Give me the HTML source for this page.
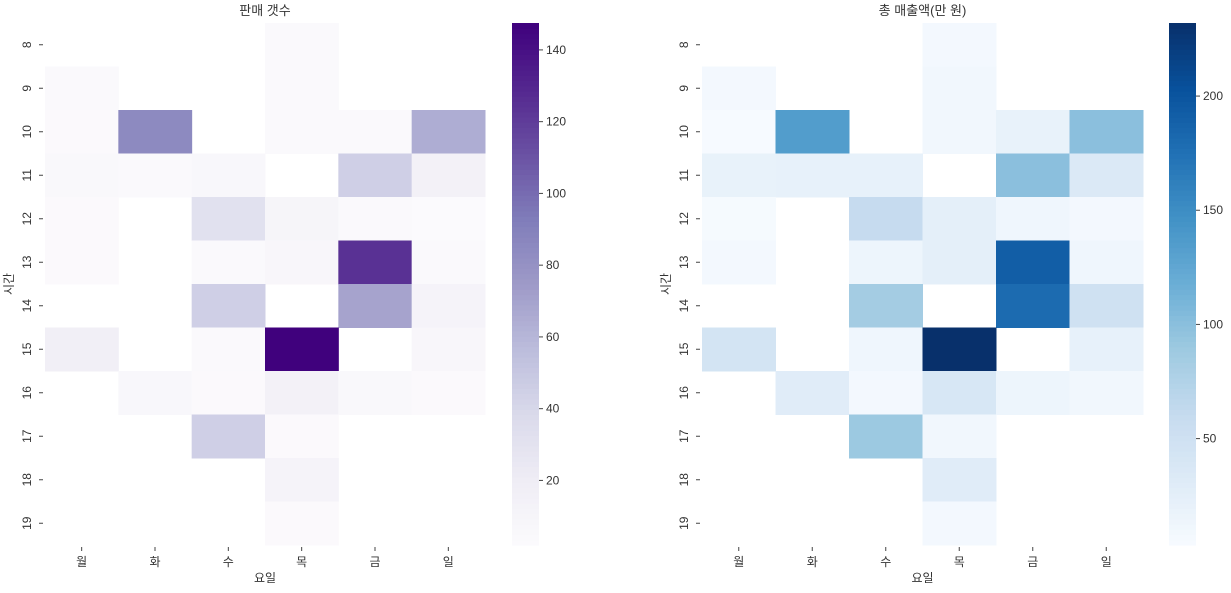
<!DOCTYPE html>
<html><head><meta charset="utf-8"><style>
body{margin:0;background:#fff;}
svg text{font-family:"Liberation Sans","Noto Sans CJK KR",sans-serif;fill:#333;}
</style></head><body>
<svg id="chart" width="1231" height="588" xmlns="http://www.w3.org/2000/svg"></svg>
<script>
const days = ['월','화','수','목','금','일'];
const hours = ['8','9','10','11','12','13','14','15','16','17','18','19'];
const countValues = [
 [null,null,null,5,null,null],
 [5,null,null,5,null,null],
 [4,85,null,5,5,65],
 [6,5,7,null,45,15],
 [4,null,32,10,5,3],
 [4,null,5,8,125,5],
 [null,null,45,null,70,12],
 [18,null,5,147,null,8],
 [null,7,4,15,6,4],
 [null,null,45,4,null,null],
 [null,null,null,12,null,null],
 [null,null,null,4,null,null]
];
const salesValues = [
 [null,null,null,8,null,null],
 [8,null,null,10,null,null],
 [5,135,null,10,20,100],
 [20,22,22,null,100,35],
 [6,null,60,25,12,8],
 [8,null,15,25,192,12],
 [null,null,85,null,180,50],
 [45,null,12,232,null,22],
 [null,30,8,40,15,10],
 [null,null,90,10,null,null],
 [null,null,null,30,null,null],
 [null,null,null,8,null,null]
];
const countTicks = [20,40,60,80,100,120,140];
const salesTicks = [50,100,150,200];
const countRange = [2,147.5];
const salesRange = [3.4,232];

const PURPLES=['#fcfbfd','#efedf5','#dadaeb','#bcbddc','#9e9ac8','#807dba','#6a51a3','#54278f','#3f007d'];
const BLUES=['#f7fbff','#deebf7','#c6dbef','#9ecae1','#6baed6','#4292c6','#2171b5','#08519c','#08306b'];
function hex(h){return [1,3,5].map(i=>parseInt(h.substr(i,2),16));}
function cmap(stops,t){t=Math.max(0,Math.min(1,t));const p=t*(stops.length-1);const i=Math.min(stops.length-2,Math.floor(p));const f=p-i;const a=hex(stops[i]),b=hex(stops[i+1]);return 'rgb('+a.map((v,k)=>Math.round(v+(b[k]-v)*f)).join(',')+')';}
const svg=document.getElementById('chart');const NS='http://www.w3.org/2000/svg';
function el(tag,attrs,parent){const e=document.createElementNS(NS,tag);for(const k in attrs)e.setAttribute(k,attrs[k]);(parent||svg).appendChild(e);return e;}
function txt(s,attrs,parent){const e=el('text',attrs,parent);e.textContent=s;return e;}

function heat(cfg){
 const g=el('g',{});
 
 
 const x0=cfg.x0,x1=cfg.x1,y0=23,y1=545;
 const cw=(x1-x0)/days.length,rh=(y1-y0)/hours.length;
 const norm=v=>(v-cfg.range[0])/(cfg.range[1]-cfg.range[0]);
 cfg.values.forEach((row,r)=>row.forEach((v,c)=>{
  if(v===null)return;
  const rc=el('rect',{x:x0+c*cw,y:y0+r*rh,width:cw+0.5,height:rh+0.5,fill:cmap(cfg.stops,norm(v))},g);
  
  
 }));
 days.forEach((d,c)=>{const cx=x0+(c+0.5)*cw;
  el('line',{x1:cx,x2:cx,y1:y1+2,y2:y1+6,stroke:'#444','stroke-width':1},g);
  const t=txt(d,{x:cx,y:y1+21,'text-anchor':'middle','font-size':12},g);
  
  
 });
 hours.forEach((h,r)=>{const cy=y0+(r+0.5)*rh;
  el('line',{x1:x0-6,x2:x0-2,y1:cy,y2:cy,stroke:'#444','stroke-width':1},g);
  const t=txt(h,{x:0,y:0,'text-anchor':'middle','font-size':12,transform:'translate('+(x0-14)+','+cy+') rotate(-90)'},g);
  
  
 });
 const tt=txt(cfg.title,{x:(x0+x1)/2,y:15,'text-anchor':'middle','font-size':13},g);
 
 
 const xl=txt('요일',{x:(x0+x1)/2,y:582,'text-anchor':'middle','font-size':12},g);
 
 
 const yl=txt('시간',{x:0,y:0,'text-anchor':'middle','font-size':12,transform:'translate('+(x0-32)+','+((y0+y1)/2)+') rotate(-90)'},g);
 
 
 const cb=el('g',{},g);
 
 
 const n=100,bx=cfg.cbx,bw=27;
 for(let i=0;i<n;i++){const t0=i/n;el('rect',{x:bx,y:y1-(i+1)*(y1-y0)/n,width:bw,height:(y1-y0)/n+0.6,fill:cmap(cfg.stops,t0+0.5/n)},cb);}
 const ys=v=>y1-norm(v)*(y1-y0);
 cfg.ticks.forEach(v=>{const y=ys(v);
  el('line',{x1:bx+bw,x2:bx+bw+4,y1:y,y2:y,stroke:'#444'},cb);
  const t=txt(String(v),{x:bx+bw+7,y:y+4,'font-size':12},cb);
  
  
 });
}
heat({name:'count-heatmap',x0:45,x1:485,values:countValues,range:countRange,stops:PURPLES,ticks:countTicks,cbx:512,title:'판매 갯수'});
heat({name:'sales-heatmap',x0:702,x1:1143,values:salesValues,range:salesRange,stops:BLUES,ticks:salesTicks,cbx:1169,title:'총 매출액(만 원)'});
</script>
</body></html>
